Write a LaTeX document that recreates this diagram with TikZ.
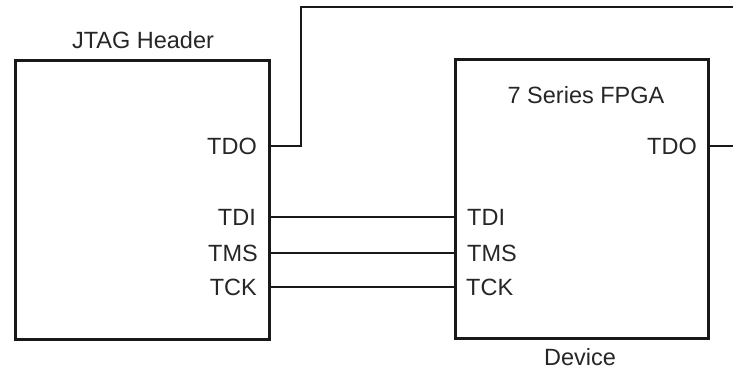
\documentclass[tikz,border=0pt]{standalone}
\usepackage{fontspec}
\setmainfont{Liberation Sans}
\begin{document}
\begin{tikzpicture}[x=1pt,y=-1pt,
  box/.style={draw=black!90, line width=2.8pt, minimum width=#1, minimum height=279pt, anchor=north west, inner sep=0pt},
  wire/.style={draw=black!90, line width=2.8pt},
  lbl/.style={font=\fontsize{23.5}{26}\selectfont, text=black!85, inner sep=0pt, text height=16.8pt, text depth=0pt},
  pinL/.style={lbl, anchor=east},
  pinR/.style={lbl, anchor=west}]
  \useasboundingbox (0,0) rectangle (733,371);

  % boxes
  \node[box=254pt] (hdr) at (14,59) {};
  \node[box=253pt] (fpga) at (454,58) {};

  % titles
  \node[lbl] (hdrtitle) at (143,40) {JTAG Header};
  \node[lbl] (fpgatitle) at (586,95) {7 Series FPGA};
  \node[lbl] (devlbl) at (580,357) {Device};

  % header pins
  \node[pinL] (hTDO) at (257,146) {TDO};
  \node[pinL] (hTDI) at (256,217) {TDI};
  \node[pinL] (hTMS) at (258,253) {TMS};
  \node[pinL] (hTCK) at (257,287) {TCK};

  % FPGA pins
  \node[pinL] (fTDO) at (697,146) {TDO};
  \node[pinR] (fTDI) at (467,217) {TDI};
  \node[pinR] (fTMS) at (467,253) {TMS};
  \node[pinR] (fTCK) at (466,287) {TCK};

  % free ends of the TDO wires
  \coordinate (turn) at (301,7);
  \coordinate (topend) at (733,7);
  \coordinate (tdoend) at (733,146);

  % connections
  \draw[wire] (hdr.east |- hTDO) -| (turn) -- (topend);
  \draw[wire] (fpga.east |- fTDO) -- (tdoend);
  \draw[wire] (hdr.east |- hTDI) -- (fpga.west |- fTDI);
  \draw[wire] (hdr.east |- hTMS) -- (fpga.west |- fTMS);
  \draw[wire] (hdr.east |- hTCK) -- (fpga.west |- fTCK);
\end{tikzpicture}
\end{document}
